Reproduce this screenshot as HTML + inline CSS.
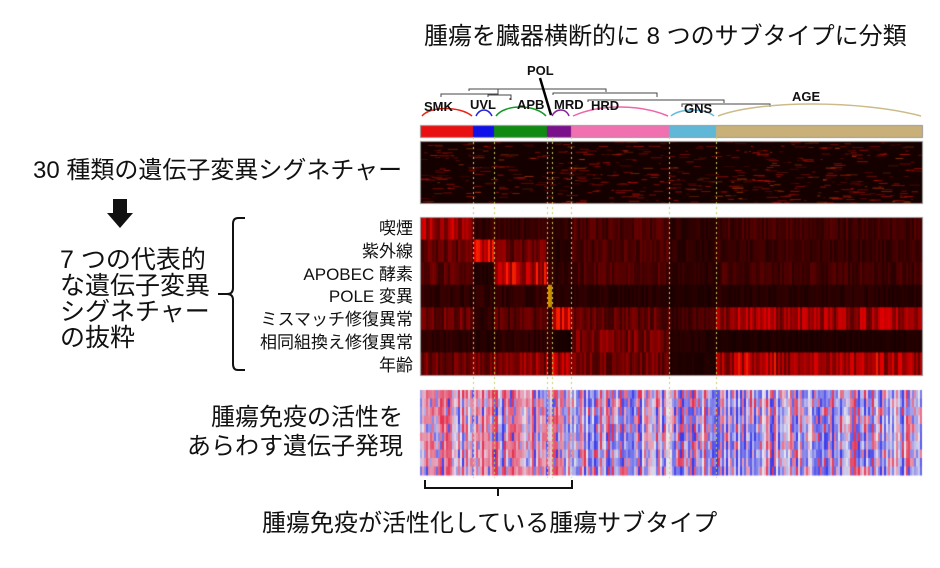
<!DOCTYPE html>
<html><head><meta charset="utf-8"><style>
body{margin:0;background:#fff;width:940px;height:568px;overflow:hidden;position:relative;font-family:"Liberation Sans","Noto Sans CJK JP",sans-serif;color:#111}
.t{position:absolute;white-space:nowrap;line-height:1}
.r{text-align:right}
canvas,svg{position:absolute;left:0;top:0}
.lb{position:absolute;font-family:"Liberation Sans",sans-serif;font-weight:bold;font-size:13px;color:#111}
</style></head><body>
<canvas id="c" width="940" height="568"></canvas>
<svg width="940" height="568">
<g stroke="#444" fill="none" stroke-width="1">
<path d="M441,97V94H498V91"/><path d="M469,91V89H606V92"/><path d="M498,91V89"/>
<path d="M488,97V95H511V100"/><path d="M510,100V98"/>
<path d="M553,95V93H657V97"/><path d="M588,102V100H724V103"/><path d="M682,107V104H770V107"/>
</g>
<line x1="540" y1="78" x2="551" y2="115" stroke="#000" stroke-width="2.5"/>
<g stroke-width="1.5" fill="none">
<path d="M422,116C430,106 460,106 472,116" stroke="#e21"/>
<path d="M476,116C480,108 488,108 492,116" stroke="#22d"/>
<path d="M496,116C505,104 535,104 546,116" stroke="#192"/>
<path d="M552,116C556,108 566,108 569,116" stroke="#829"/>
<path d="M573,116C600,104 640,104 668,116" stroke="#e6a"/>
<path d="M671,116C680,108 705,108 714,116" stroke="#6bd"/>
<path d="M718,116C760,100 860,100 921,116" stroke="#cb8"/>
</g>
<path d="M245,218H238Q233,218 233,224V288Q233,294 227,294H218H227Q233,294 233,300V364Q233,370 238,370H245" stroke="#111" stroke-width="2" fill="none"/>
<path d="M425,480V488H572V480M498,488V496" stroke="#111" stroke-width="2" fill="none"/>
<path d="M113,199H127V213H133L120,228L107,213H113Z" fill="#111"/>
</svg>
<div class="lb" style="left:424px;top:99px">SMK</div>
<div class="lb" style="left:470px;top:97px">UVL</div>
<div class="lb" style="left:517px;top:97px">APB</div>
<div class="lb" style="left:527px;top:63px">POL</div>
<div class="lb" style="left:554px;top:97px">MRD</div>
<div class="lb" style="left:591px;top:98px">HRD</div>
<div class="lb" style="left:684px;top:101px">GNS</div>
<div class="lb" style="left:792px;top:89px">AGE</div>
<div class="t" style="left:424px;top:25px;font-size:24px">腫瘍を臓器横断的に 8 つのサブタイプに分類</div>
<div class="t" style="left:33px;top:159px;font-size:24px">30 種類の遺伝子変異シグネチャー</div>
<div class="t" style="left:60px;top:247px;font-size:25px;line-height:26px">7 つの代表的<br>な遺伝子変異<br>シグネチャー<br>の抜粋</div>
<div class="t r" style="right:527px;top:218px;font-size:17px;line-height:22.8px">喫煙<br>紫外線<br>APOBEC 酵素<br>POLE 変異<br>ミスマッチ修復異常<br>相同組換え修復異常<br>年齢</div>
<div class="t r" style="right:537px;top:403px;font-size:24px;line-height:29px">腫瘍免疫の活性を<br>あらわす遺伝子発現</div>
<div class="t" style="left:262px;top:512px;font-size:24px">腫瘍免疫が活性化している腫瘍サブタイプ</div>
<script>
var c=document.getElementById('c').getContext('2d');
var s=7;function R(){s=(s*16807)%2147483647;return (s-1)/2147483646;}
var B=[420,473,494,547,552,571,669,716,922];
var cols=['#e81010','#1010e8','#108a10','#f0a010','#7a108a','#f070b0','#60b8d8','#c8b078'];
for(var i=0;i<8;i++){c.fillStyle=cols[i==3?4:i];c.fillRect(B[i],125,B[i+1]-B[i],12);}
c.strokeStyle='#999';c.strokeRect(420.5,125.5,502,12);
function seg(x){for(var i=0;i<8;i++)if(x<B[i+1])return i;return 7;}
c.save();c.beginPath();c.rect(420,141,502,63);c.clip();
c.fillStyle='#150000';c.fillRect(420,141,502,63);
for(var k=0;k<600;k++){var x=420+R()*500,y=141+R()*62;c.fillStyle='rgba(200,'+(R()<.15?80:20)+',10,'+(0.2+R()*0.5)+')';c.fillRect(x,y,2+R()*10,1);}
c.restore();
var M=[[.8,.2,.2,.15,.15,.3,.15,.25],[.4,1,.45,.15,.1,.3,.15,.2],[.35,.1,.85,.2,.15,.3,.15,.25],[.15,.15,.15,1,.1,.12,.08,.12],[.45,.15,.35,.15,1,.4,.25,.7],[.15,.1,.15,.15,.05,.5,.1,.08],[.45,.5,.6,.35,.85,.45,.08,.75]];
var y0=217,rh=158/7;
for(var x=420;x<922;x+=2){var sg=seg(x);for(var r=0;r<7;r++){var v=M[r][sg]*(0.45+R()*0.8);v=Math.min(1,v);var g=(r==3&&sg==3)?140:(v>0.9?30:0);c.fillStyle='rgb('+Math.round(15+v*240)+','+g+',0)';c.fillRect(x,y0+r*rh,2,rh+1);}}
for(var x=420;x<922;x+=2){var red=x<571?0.72:(x<716?0.35:0.25);var base=R()<red;var a0=R();for(var r=0;r<10;r++){var isr=R()<0.8?base:!base;var a=Math.min(1,Math.max(0,a0+(R()-0.5)*0.5));var rr,gg,bb;if(isr){rr=230;gg=50+a*160;bb=80+a*150;}else{rr=60+a*170;gg=60+a*170;bb=235;}c.fillStyle='rgb('+(rr|0)+','+(gg|0)+','+(bb|0)+')';c.fillRect(x,390+r*8.5,2,9);}}
c.strokeStyle='#999';c.strokeRect(420.5,141.5,502,62);c.strokeRect(420.5,217.5,502,158);
c.strokeStyle='#c8d060';c.setLineDash([2,3]);c.lineWidth=1;
[473,494,547,552,571,669,716].forEach(function(x){c.beginPath();c.moveTo(x+.5,137);c.lineTo(x+.5,478);c.stroke();});
</script>
</body></html>
